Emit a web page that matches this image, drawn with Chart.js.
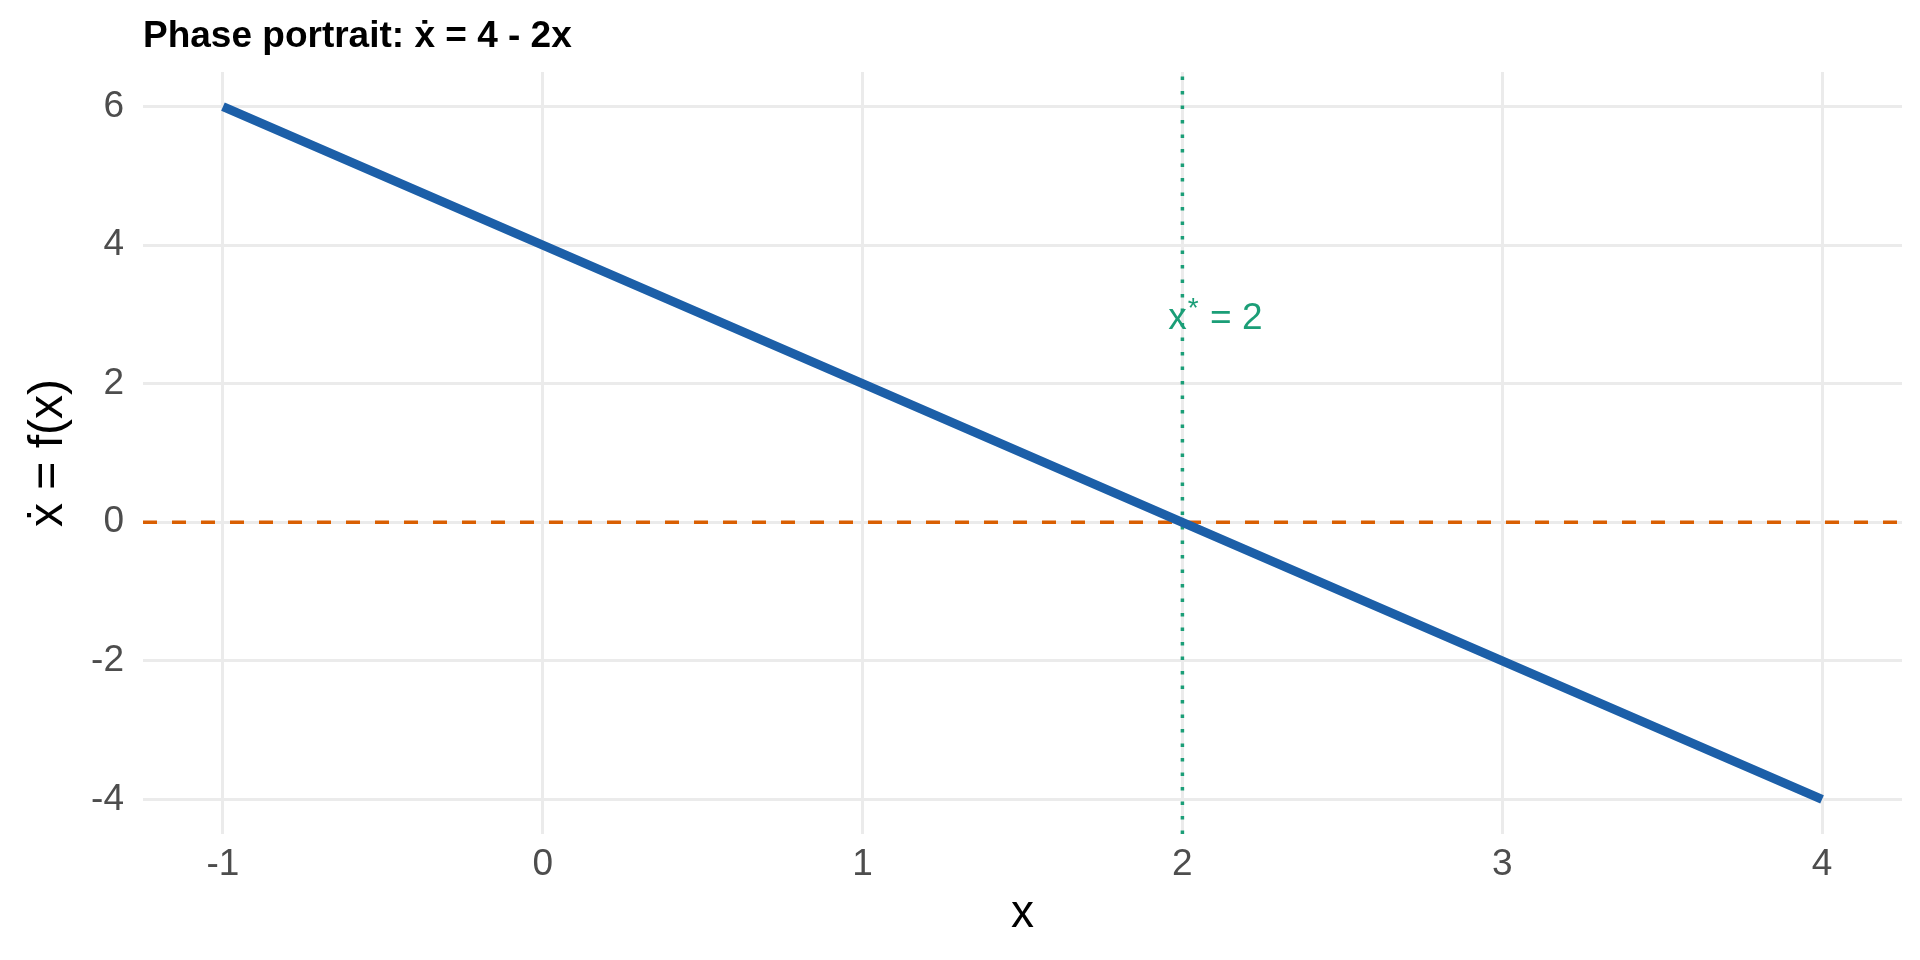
<!DOCTYPE html>
<html lang="en">
<head>
    <meta charset="UTF-8">
    <title>Phase portrait</title>
    <script src="https://cdn.jsdelivr.net/npm/chart.js"></script>
    <style>
        html, body { margin: 0; padding: 0; background: #ffffff; }
        #wrap { width: 1920px; height: 960px; }
    </style>
</head>
<body>
<div id="wrap">
    <canvas id="phaseChart" width="1920" height="960"></canvas>
</div>

<script>
    // values
    const xValues = [-1, 0, 1, 2, 3, 4];
    const xDotValues = [6, 4, 2, 0, -2, -4];
    const xTicks = [-1, 0, 1, 2, 3, 4];
    const yTicks = [-4, -2, 0, 2, 4, 6];
    const xRange = [-1.25, 4.25];
    const yRange = [-4.5, 6.5];
    const fixedPoint = 2;
    const zeroLevel = 0;
    const labelPos = [2.1, 3];

    const titleText = 'Phase portrait: ẋ = 4 - 2x';
    const fontFamily = '"Liberation Sans", Arial, Helvetica, sans-serif';

    const lineData = xValues.map((x, i) => ({ x: x, y: xDotValues[i] }));

    // title sits over the panel, left aligned with it
    const plotTitle = {
        id: 'plotTitle',
        afterDraw(chart) {
            const ctx = chart.ctx;
            ctx.save();
            ctx.font = 'bold 37px ' + fontFamily;
            ctx.fillStyle = '#000000';
            ctx.textAlign = 'left';
            ctx.textBaseline = 'alphabetic';
            ctx.fillText(titleText, chart.chartArea.left, 47);
            ctx.restore();
        }
    };

    // "x* = 2" next to the dotted line
    const fixedLabel = {
        id: 'fixedLabel',
        afterDatasetsDraw(chart) {
            const ctx = chart.ctx;
            const cx = chart.scales.x.getPixelForValue(labelPos[0]);
            const cy = chart.scales.y.getPixelForValue(labelPos[1]);
            ctx.save();
            ctx.fillStyle = '#1B9E77';
            ctx.textBaseline = 'alphabetic';
            ctx.textAlign = 'left';
            const big = '37px ' + fontFamily;
            const small = '28px ' + fontFamily;
            ctx.font = big;
            const wX = ctx.measureText('x').width;
            const wRest = ctx.measureText(' = 2').width;
            ctx.font = small;
            const wStar = ctx.measureText('*').width;
            let x0 = cx - (wX + wStar + wRest) / 2;
            const base = cy + 15;
            ctx.font = big;
            ctx.fillText('x', x0, base);
            ctx.font = small;
            ctx.fillText('*', x0 + wX + 1, base - 12);
            ctx.font = big;
            ctx.fillText(' = 2', x0 + wX + wStar + 2, base);
            ctx.restore();
        }
    };

    const ctx = document.getElementById('phaseChart').getContext('2d');
    new Chart(ctx, {
        type: 'scatter',
        data: {
            datasets: [
                {
                    label: 'f(x)',
                    data: lineData,
                    showLine: true,
                    borderColor: '#1c5fa8',
                    borderWidth: 9,
                    pointRadius: 0,
                    borderCapStyle: 'butt'
                },
                {
                    label: 'x*',
                    data: [{ x: fixedPoint, y: yRange[0] }, { x: fixedPoint, y: yRange[1] }],
                    showLine: true,
                    borderColor: '#1B9E77',
                    borderWidth: 3.5,
                    borderDash: [3.5, 11],
                    pointRadius: 0
                },
                {
                    label: 'zero',
                    data: [{ x: xRange[0], y: zeroLevel }, { x: xRange[1], y: zeroLevel }],
                    showLine: true,
                    borderColor: '#D95F02',
                    borderWidth: 3.5,
                    borderDash: [14, 15],
                    pointRadius: 0
                }
            ]
        },
        options: {
            responsive: false,
            animation: false,
            devicePixelRatio: 1,
            layout: { padding: { top: 72, right: 18, bottom: 0, left: 0 } },
            plugins: {
                legend: { display: false },
                tooltip: { enabled: false }
            },
            scales: {
                x: {
                    type: 'linear',
                    min: xRange[0],
                    max: xRange[1],
                    afterBuildTicks: s => { s.ticks = xTicks.map(v => ({ value: v })); },
                    afterFit: s => { s.height = 126; },
                    grid: { color: '#EBEBEB', lineWidth: 3, drawTicks: false },
                    border: { display: false },
                    ticks: {
                        padding: 9,
                        color: '#4D4D4D',
                        font: { family: fontFamily, size: 37 },
                        callback: v => String(v)
                    },
                    title: {
                        display: true,
                        text: 'x',
                        color: '#000000',
                        font: { family: fontFamily, size: 46 },
                        padding: { top: 0, bottom: 18 }
                    }
                },
                y: {
                    type: 'linear',
                    min: yRange[0],
                    max: yRange[1],
                    afterBuildTicks: s => { s.ticks = yTicks.map(v => ({ value: v })); },
                    afterFit: s => { s.width = 143; },
                    grid: { color: '#EBEBEB', lineWidth: 3, drawTicks: false },
                    border: { display: false },
                    ticks: {
                        padding: 19,
                        color: '#4D4D4D',
                        font: { family: fontFamily, size: 37 },
                        callback: v => String(v)
                    },
                    title: {
                        display: true,
                        text: 'ẋ = f(x)',
                        color: '#000000',
                        font: { family: fontFamily, size: 48 },
                        padding: { top: 20, bottom: 0 }
                    }
                }
            }
        },
        plugins: [plotTitle, fixedLabel]
    });
</script>
</body>
</html>
